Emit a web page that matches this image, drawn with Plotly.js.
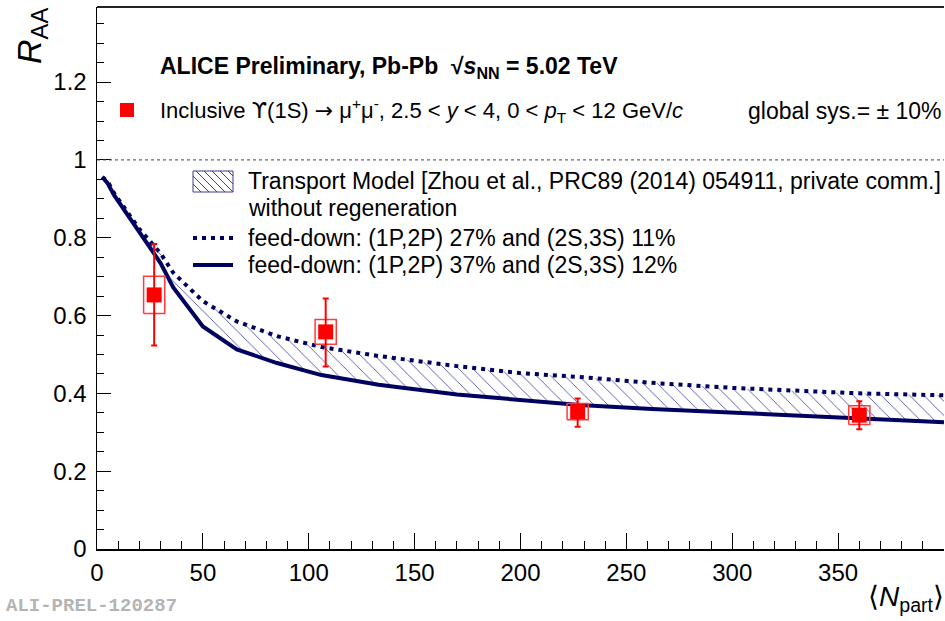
<!DOCTYPE html>
<html>
<head>
<meta charset="utf-8">
<script src="https://cdn.plot.ly/plotly-3.0.1.min.js"></script>
<style>html,body{margin:0;padding:0;background:#fff;} #chart{width:945px;height:621px;}</style>
</head>
<body>
<div id="chart"></div>
<script>
// ---- data ----
const npart     = [27, 108, 227, 360];
const raa       = [0.653, 0.558, 0.353, 0.344];
const statUp    = [0.131, 0.086, 0.034, 0.036];
const statDown  = [0.130, 0.089, 0.039, 0.036];
const sysErr    = [0.048, 0.032, 0.021, 0.024];

const modelNpart = [2.5, 5, 8, 15, 20, 26, 30, 36, 50, 66, 85, 106, 133, 170, 200, 228, 262, 300, 330, 360, 400];
const modelUpper = [0.956, 0.945, 0.915, 0.86, 0.822, 0.785, 0.76, 0.71, 0.637, 0.585, 0.547, 0.519, 0.496, 0.470, 0.452, 0.442, 0.427, 0.414, 0.406, 0.400, 0.395]; // 27% / 11%
const modelLower = [0.956, 0.94, 0.91, 0.855, 0.815, 0.765, 0.735, 0.672, 0.572, 0.513, 0.478, 0.447, 0.422, 0.397, 0.383, 0.370, 0.360, 0.350, 0.342, 0.336, 0.326]; // 37% / 12%

const xTickVals = [0, 50, 100, 150, 200, 250, 300, 350];
const yTickVals = [0, 0.2, 0.4, 0.6, 0.8, 1, 1.2];

// ---- styling ----
const FONT = 'Liberation Sans, Arial, Helvetica, sans-serif';
const NAVY = '#000060';
const HATCH = '#3c3c96';
const RED = '#ff0000';
const SYS_HALF = 5;

const L = 97, T = 7, W = 847, H = 542;
const px = p => (p - L) / W;
const py = p => (T + H - p) / H;

// band polygon
const bandX = modelNpart.concat(modelNpart.slice().reverse());
const bandY = modelUpper.concat(modelLower.slice().reverse());

// systematic boxes
const boxX = [], boxY = [];
npart.forEach((x, i) => {
  const lo = raa[i] - sysErr[i], hi = raa[i] + sysErr[i];
  boxX.push(x - SYS_HALF, x + SYS_HALF, x + SYS_HALF, x - SYS_HALF, x - SYS_HALF, null);
  boxY.push(lo, lo, hi, hi, lo, null);
});

const traces = [
  {x: bandX, y: bandY, type: 'scatter', mode: 'none', fill: 'toself',
   fillpattern: {shape: '\\', fgcolor: HATCH, bgcolor: 'rgba(0,0,0,0)', size: 10, solidity: 0.08, fillmode: 'replace'},
   hoverinfo: 'skip', showlegend: false},
  {x: modelNpart, y: modelUpper, type: 'scatter', mode: 'lines',
   line: {color: NAVY, width: 4, dash: '4px,5px'}, showlegend: false},
  {x: modelNpart, y: modelLower, type: 'scatter', mode: 'lines',
   line: {color: NAVY, width: 4}, showlegend: false},
  {x: boxX, y: boxY, type: 'scatter', mode: 'lines',
   line: {color: '#ff3b3b', width: 1.5}, showlegend: false, hoverinfo: 'skip'},
  {x: npart, y: raa, type: 'scatter', mode: 'markers',
   marker: {symbol: 'square', size: 15, color: RED},
   error_y: {type: 'data', symmetric: false, array: statUp, arrayminus: statDown, color: RED, thickness: 2, width: 3},
   showlegend: false}
];

// legend glyph shapes
const shapes = [
  {type: 'line', xref: 'paper', yref: 'paper', x0: 0, x1: 1, y0: 1, y1: 1, line: {color: '#222', width: 2}},
  {type: 'line', xref: 'paper', yref: 'y', x0: 0, x1: 1, y0: 1, y1: 1, line: {color: '#444', width: 1, dash: 'dot'}},
  {type: 'rect', xref: 'paper', yref: 'paper', x0: px(120), x1: px(134), y0: py(117), y1: py(103), fillcolor: RED, line: {width: 0}},
  {type: 'rect', xref: 'paper', yref: 'paper', x0: px(193), x1: px(233), y0: py(192), y1: py(171), fillcolor: 'rgba(0,0,0,0)', line: {color: HATCH, width: 1}},
  {type: 'line', xref: 'paper', yref: 'paper', x0: px(193), x1: px(233), y0: py(238), y1: py(238), line: {color: NAVY, width: 4, dash: '4px,5px'}},
  {type: 'line', xref: 'paper', yref: 'paper', x0: px(193), x1: px(233), y0: py(265), y1: py(265), line: {color: NAVY, width: 4}}
];
(function hatchGlyph() {
  const x0 = 193, x1 = 233, y0 = 171, y1 = 192, h = y1 - y0;
  for (let c = x0 - h; c < x1; c += 8) {
    const t0 = Math.max(0, x0 - c), t1 = Math.min(h, x1 - c);
    if (t1 <= t0) continue;
    shapes.push({type: 'line', xref: 'paper', yref: 'paper',
      x0: px(c + t0), y0: py(y0 + t0), x1: px(c + t1), y1: py(y0 + t1),
      line: {color: HATCH, width: 1}});
  }
})();

const txt = (text, xp, yp, opts) => Object.assign({
  text: text, xref: 'paper', yref: 'paper', x: px(xp), y: py(yp),
  xanchor: 'left', yanchor: 'middle', showarrow: false,
  font: {family: FONT, size: 23, color: '#000'}
}, opts || {});

const SYM = '<span style="font-family:DejaVu Sans">';
const annotations = [
  txt('<b>ALICE Preliminary, Pb-Pb  √<i>s</i><sub>NN</sub> = 5.02 TeV</b>', 158, 67),
  txt('Inclusive ' + SYM + 'ϒ</span>(1S) ' + SYM + '→</span> μ<sup>+</sup>μ<sup>-</sup>, 2.5 &lt; <i>y</i> &lt; 4, 0 &lt; <i>p</i><sub>T</sub> &lt; 12 GeV/<i>c</i>', 158, 111, {font: {family: FONT, size: 22, color: '#000'}}),
  txt('global sys.= ± 10%', 944, 111, {xanchor: 'right'}),
  txt('Transport Model [Zhou et al., PRC89 (2014) 054911, private comm.]', 246, 181),
  txt('without regeneration', 246, 208),
  txt('feed-down: (1P,2P) 27% and (2S,3S) 11%', 246, 238),
  txt('feed-down: (1P,2P) 37% and (2S,3S) 12%', 246, 265),
  txt('<i>R</i><sub>AA</sub>', 32, 6, {xanchor: 'center', yanchor: 'top', textangle: -90, font: {family: FONT, size: 34, color: '#000'}}),
  txt('⟨<i>N</i><sub>part</sub>⟩', 946, 598, {xanchor: 'right', font: {family: FONT, size: 28, color: '#000'}}),
  txt('<b>ALI-PREL-120287</b>', 4, 619, {yanchor: 'bottom', font: {family: 'Liberation Mono, DejaVu Sans Mono, monospace', size: 19, color: '#b4b4b4'}})
];

const layout = {
  width: 945, height: 621,
  margin: {l: L, r: 945 - L - W, t: T, b: 621 - T - H, pad: 0},
  paper_bgcolor: '#fff', plot_bgcolor: '#fff',
  showlegend: false,
  xaxis: {range: [0, 400], showgrid: false, zeroline: false, showline: true, linecolor: '#000', linewidth: 1.5,
    ticks: 'inside', ticklen: 16, tickwidth: 1, tickcolor: '#000',
    tickvals: xTickVals, ticktext: xTickVals.map(String), ticklabelstandoff: 2,
    minor: {ticks: 'inside', ticklen: 8, tickwidth: 1, tickcolor: '#000', dtick: 10, tick0: 0, showgrid: false},
    tickfont: {family: FONT, size: 24, color: '#000'}},
  yaxis: {range: [0, 1.393], showgrid: false, zeroline: false, showline: true, linecolor: '#000', linewidth: 1.5,
    ticks: 'inside', ticklen: 14, tickwidth: 1, tickcolor: '#000',
    tickvals: yTickVals, ticktext: yTickVals.map(String), ticklabelstandoff: 4,
    minor: {ticks: 'inside', ticklen: 7, tickwidth: 1, tickcolor: '#000', dtick: 0.05, tick0: 0, showgrid: false},
    tickfont: {family: FONT, size: 24, color: '#000'}},
  shapes: shapes,
  annotations: annotations
};

Plotly.newPlot('chart', traces, layout, {staticPlot: true, displayModeBar: false});
</script>
</body>
</html>
